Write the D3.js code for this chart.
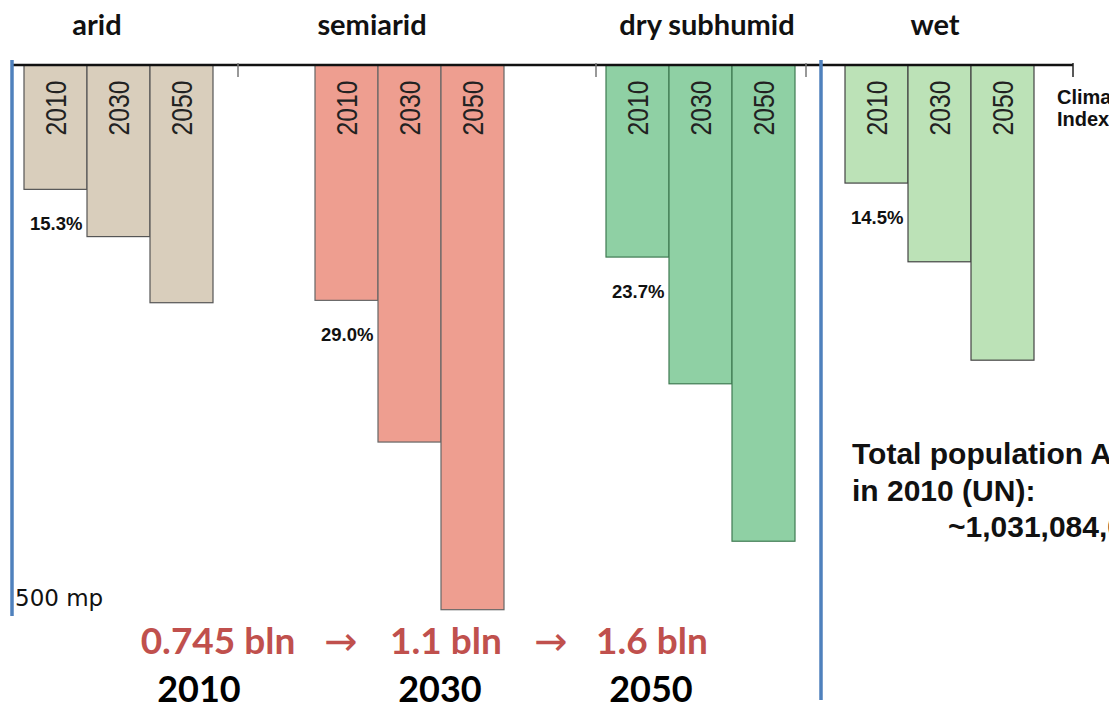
<!DOCTYPE html>
<html>
<head>
<meta charset="utf-8">
<script src="https://cdn.jsdelivr.net/npm/d3@7"></script>
<style>
  body { margin: 0; background: #fff; }
  svg { display: block; }
</style>
</head>
<body>
<div id="chart"></div>
<script>
// climate zones and projection years
const zones = ["arid", "semiarid", "dry subhumid", "wet"];
const years = ["2010", "2030", "2050"];

// population per zone, million people
const arid = [158, 218, 302];
const semiarid = [299, 479, 692];
const drySubhumid = [244, 405, 605];
const wet = [150, 250, 375];

// share of total population in 2010
const share2010 = [15.3, 29.0, 23.7, 14.5];

// drylands totals shown along the bottom
const totalLabels = ["0.745 bln", "1.1 bln", "1.6 bln"];

const zoneValues = [arid, semiarid, drySubhumid, wet];

function drawChart() {
  const width = 1109, height = 709;

  const svg = d3.select("#chart")
    .append("svg")
    .attr("width", width)
    .attr("height", height)
    .style("font-family", "Liberation Sans, Arial, sans-serif");

  const colors = d3.scaleOrdinal()
    .domain(zones)
    .range(["#d9cebc", "#ee9e90", "#8fd0a4", "#bce2b7"]);
  const strokes = d3.scaleOrdinal()
    .domain(zones)
    .range(["#555", "#666", "#3f7a52", "#444"]);

  // left edge of every zone group
  const xZone = d3.scaleOrdinal()
    .domain(zones)
    .range([24, 315, 606, 845]);

  // zone titles are not quite centred over their bars
  const xTitle = d3.scaleOrdinal()
    .domain(zones)
    .range([97, 372, 707, 935]);

  const xYear = d3.scaleBand()
    .domain(years)
    .range([0, 189])
    .padding(0);

  // bars hang down from the index line
  const y = d3.scaleLinear()
    .domain([0, 700])
    .range([65, 616]);

  const bars = [];
  zones.forEach((z, i) => {
    years.forEach((yr, j) => {
      bars.push({ zone: z, year: yr, value: zoneValues[i][j] });
    });
  });

  // bars
  const barG = svg.append("g");
  barG.selectAll("rect")
    .data(bars)
    .join("rect")
    .attr("x", d => xZone(d.zone) + xYear(d.year))
    .attr("y", y(0))
    .attr("width", xYear.bandwidth())
    .attr("height", d => y(d.value) - y(0))
    .attr("fill", d => colors(d.zone))
    .attr("stroke", d => strokes(d.zone))
    .attr("stroke-width", 1.2);

  // year labels inside the bars (narrow type)
  barG.selectAll("text")
    .data(bars)
    .join("text")
    .attr("transform", d => `translate(${xZone(d.zone) + xYear(d.year) + xYear.bandwidth() / 2},${y(0) + 43}) rotate(-90)`)
    .attr("text-anchor", "middle")
    .attr("dominant-baseline", "central")
    .attr("font-size", 29)
    .attr("textLength", 55)
    .attr("lengthAdjust", "spacingAndGlyphs")
    .attr("fill", "#222")
    .text(d => d.year);

  // climate index line along the top
  svg.append("line")
    .attr("x1", 12)
    .attr("x2", 1073)
    .attr("y1", y(0))
    .attr("y2", y(0))
    .attr("stroke", "#111")
    .attr("stroke-width", 2.5);

  svg.append("g")
    .selectAll("line")
    .data([238, 596, 806, 1073])
    .join("line")
    .attr("x1", d => d)
    .attr("x2", d => d)
    .attr("y1", y(0) - 2)
    .attr("y2", y(0) + 12)
    .attr("stroke", (d, i) => i === 3 ? "#222" : "#777")
    .attr("stroke-width", 1.5);

  // zone titles
  svg.append("g")
    .selectAll("text")
    .data(zones)
    .join("text")
    .attr("x", d => xTitle(d))
    .attr("y", 35)
    .attr("text-anchor", "middle")
    .attr("font-family", "Lato, sans-serif")
    .attr("font-weight", "bold")
    .attr("font-size", 29)
    .attr("fill", "#111")
    .text(d => d);

  // share labels under the 2010 bars
  svg.append("g")
    .selectAll("text")
    .data(zones)
    .join("text")
    .attr("x", d => xZone(d) + 6)
    .attr("y", (d, i) => y(zoneValues[i][0]) + 41)
    .attr("font-weight", "bold")
    .attr("font-size", 18.5)
    .attr("fill", "#111")
    .text((d, i) => d3.format(".1f")(share2010[i]) + "%");

  // blue separators
  svg.append("line")
    .attr("x1", 12).attr("x2", 12)
    .attr("y1", 60).attr("y2", 616)
    .attr("stroke", "#4f81bd")
    .attr("stroke-width", 3.5);

  svg.append("line")
    .attr("x1", 821).attr("x2", 821)
    .attr("y1", 60).attr("y2", 700)
    .attr("stroke", "#4f81bd")
    .attr("stroke-width", 3.5);

  svg.append("text")
    .attr("x", 15)
    .attr("y", 606)
    .attr("font-family", "DejaVu Sans, sans-serif")
    .attr("font-size", 23)
    .attr("fill", "#111")
    .text("500 mp");

  // axis title, cut by the right edge as in the slide
  const idx = svg.append("text")
    .attr("font-weight", "bold")
    .attr("font-size", 20)
    .attr("fill", "#111");
  idx.append("tspan").attr("x", 1057).attr("y", 104).text("Climate");
  idx.append("tspan").attr("x", 1057).attr("y", 126).text("Index");

  // totals along the bottom
  const totalX = d3.scaleOrdinal().domain(years).range([218, 446, 652]);

  svg.append("g")
    .selectAll("text")
    .data(totalLabels)
    .join("text")
    .attr("x", (d, i) => totalX(years[i]))
    .attr("y", 654)
    .attr("text-anchor", "middle")
    .attr("font-family", "Lato, sans-serif")
    .attr("font-weight", "bold")
    .attr("font-size", 37)
    .attr("fill", "#c0504d")
    .text(d => d);

  svg.append("g")
    .selectAll("text")
    .data([341, 551])
    .join("text")
    .attr("x", d => d)
    .attr("y", 655)
    .attr("text-anchor", "middle")
    .attr("font-family", "DejaVu Sans, sans-serif")
    .attr("font-size", 40)
    .attr("fill", "#c0504d")
    .text("\u2192");

  const yearX = d3.scaleOrdinal().domain(years).range([199, 440, 651]);

  svg.append("g")
    .selectAll("text")
    .data(years)
    .join("text")
    .attr("x", d => yearX(d))
    .attr("y", 702)
    .attr("text-anchor", "middle")
    .attr("font-family", "Lato, sans-serif")
    .attr("font-weight", "bold")
    .attr("font-size", 36)
    .attr("fill", "#000")
    .text(d => d);

  // note on the right, runs off the edge as in the slide
  const note = svg.append("text")
    .attr("font-weight", "bold")
    .attr("font-size", 30)
    .attr("fill", "#111");
  note.append("tspan").attr("x", 852).attr("y", 464).text("Total population Africa");
  note.append("tspan").attr("x", 852).attr("y", 501).text("in 2010 (UN):");
  note.append("tspan").attr("x", 948).attr("y", 537).text("~1,031,084,000");
}

drawChart();
</script>
</body>
</html>
